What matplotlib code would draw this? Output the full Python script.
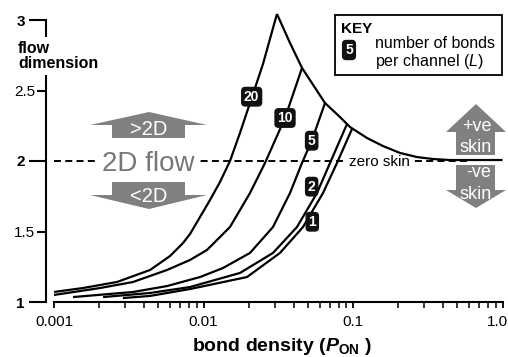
import matplotlib
matplotlib.use("Agg")
import matplotlib.pyplot as plt
from matplotlib.patches import Polygon, Rectangle
from matplotlib.transforms import Affine2D, ScaledTranslation
from matplotlib.ticker import LogLocator, NullFormatter

plt.rcParams["font.family"] = ["Liberation Sans", "DejaVu Sans"]
plt.rcParams["mathtext.fontset"] = "custom"
plt.rcParams["mathtext.it"] = "Liberation Sans:italic:bold"
plt.rcParams["mathtext.rm"] = "Liberation Sans:bold"
plt.rcParams["mathtext.bf"] = "Liberation Sans:bold"
plt.rcParams["mathtext.sf"] = "Liberation Sans:italic"

# ---- flow dimension vs bond density, one curve per L (bonds per channel) ----
bonds_per_channel = ["20", "10", "5", "2", "1"]

p_on_L20 = [0.001, 0.00156, 0.00264, 0.00439, 0.00597, 0.00729, 0.00812, 0.00948,
            0.01105, 0.01289, 0.01504, 0.01754, 0.02111, 0.02500, 0.0310]
dim_L20 = [1.071, 1.099, 1.142, 1.227, 1.326, 1.418, 1.482, 1.603,
           1.723, 1.851, 2.000, 2.199, 2.454, 2.688, 3.043]

p_on_L10 = [0.001, 0.00203, 0.00338, 0.00570, 0.00812, 0.01055, 0.01504, 0.02047,
            0.02578, 0.03509, 0.0456]
dim_L10 = [1.050, 1.099, 1.142, 1.227, 1.298, 1.369, 1.532, 1.773,
           1.986, 2.305, 2.660]

p_on_L5 = [0.00134, 0.00338, 0.00570, 0.00948, 0.01350, 0.02047, 0.02917, 0.03790,
           0.04560, 0.05318, 0.06497]
dim_L5 = [1.035, 1.071, 1.113, 1.177, 1.241, 1.348, 1.532, 1.773,
          1.986, 2.149, 2.411]

p_on_L2 = [0.00213, 0.00439, 0.00812, 0.01754, 0.02917, 0.04221, 0.05743, 0.07019, 0.09117]
dim_L2 = [1.035, 1.064, 1.106, 1.206, 1.348, 1.532, 1.773, 1.986, 2.262]

p_on_L1 = [0.00289, 0.00439, 0.00812, 0.01954, 0.03249, 0.04631, 0.06300, 0.07816, 0.09847]
dim_L1 = [1.028, 1.043, 1.092, 1.177, 1.348, 1.532, 1.773, 1.986, 2.227]

# upper envelope: from the peak down to the zero-skin plateau
p_on_env = [0.0310, 0.0379, 0.0456, 0.0650, 0.0818, 0.0955, 0.1241, 0.1588,
            0.2063, 0.2681, 0.3428, 0.4455, 1.0]
dim_env = [3.043, 2.837, 2.660, 2.411, 2.312, 2.241, 2.163, 2.106,
           2.057, 2.028, 2.014, 2.007, 2.007]

flow_2d = 2.0

x_ticks = [0.001, 0.01, 0.1, 1.0]
x_tick_labels = ["0.001", "0.01", "0.1", "1.0"]
y_major = [1, 2, 3]
y_major_labels = ["1", "2", "3"]
y_minor = [1.5, 2.5]
y_minor_labels = ["1.5", "2.5"]

# ---- figure ----
W, H = 508, 357
fig = plt.figure(figsize=(W / 100, H / 100), dpi=100)
fig.patch.set_facecolor("white")
# pixel transform (origin at top-left) for the annotation graphics
px = Affine2D().scale(1 / W, -1 / H).translate(0, 1) + fig.transFigure

ax = fig.add_axes([54 / W, (H - 302) / H, 448.5 / W, 296.1 / H])
ax.set_xscale("log")
ax.set_xlim(0.001, 1.0)
ax.set_ylim(1, 3.1)
ax.set_facecolor("none")

for s in ("top", "right"):
    ax.spines[s].set_visible(False)
ax.spines["left"].set_position(("outward", 5.8))
ax.spines["left"].set_bounds(1, 3)
ax.spines["left"].set_linewidth(1.5)
ax.spines["bottom"].set_linewidth(1.5)

ax.set_yticks(y_major, labels=y_major_labels)
for lab in ax.get_yticklabels():
    lab.set_fontweight("bold")
ax.set_yticks(y_minor, labels=y_minor_labels, minor=True)
ax.tick_params(axis="y", which="major", direction="out", length=12.2, width=1.5,
               pad=2.9, labelsize=11)
ax.tick_params(axis="y", which="minor", direction="out", length=6.5, width=1.5,
               pad=1.4, labelsize=11)

ax.set_xticks(x_ticks, labels=x_tick_labels)
ax.xaxis.set_minor_locator(LogLocator(base=10, subs=range(2, 10)))
ax.xaxis.set_minor_formatter(NullFormatter())
ax.tick_params(axis="x", which="major", direction="out", length=4.5, width=1.3,
               pad=5, labelsize=11)
ax.tick_params(axis="x", which="minor", direction="out", length=4.0, width=1.1)
# keep the last tick label inside the figure
last = ax.xaxis.get_majorticklabels()[-1]
last.set_horizontalalignment("right")
last.set_transform(last.get_transform() + ScaledTranslation(0.05, 0, fig.dpi_scale_trans))

# reference line for 2D flow (zero skin)
ax.hlines(flow_2d, 0.001, 0.62, colors="black", linewidth=1.4,
          linestyles=(0, (3.6, 2.2)), zorder=3)

curves = [(p_on_L20, dim_L20), (p_on_L10, dim_L10), (p_on_L5, dim_L5),
          (p_on_L2, dim_L2), (p_on_L1, dim_L1), (p_on_env, dim_env)]
for xs, ys in curves:
    ax.plot(xs, ys, color="black", linewidth=1.6, zorder=5,
            solid_joinstyle="round", solid_capstyle="butt", clip_on=False)

# L labels on the curves
label_x = [0.0210, 0.0351, 0.0529, 0.0529, 0.0534]
label_y = [2.456, 2.305, 2.144, 1.818, 1.569]
for txt, lx, ly in zip(bonds_per_channel, label_x, label_y):
    ax.text(lx, ly, txt, color="white", fontsize=10, fontweight="bold",
            ha="center", va="center", zorder=6,
            bbox=dict(boxstyle="round,pad=0.16,rounding_size=0.25",
                      fc="#111111", ec="#111111"))

# text on the reference line
ax.text(148, 171, "2D flow", transform=px, fontsize=20, color="#777777",
        ha="center", va="baseline", zorder=4, clip_on=False,
        bbox=dict(fc="white", ec="none", pad=2.5))
ax.text(379, 166.5, "zero skin", transform=px, fontsize=11, color="black",
        ha="center", va="baseline", zorder=4, clip_on=False,
        bbox=dict(fc="white", ec="none", pad=1.0))

# block arrows
grey = "#808080"
arrows = [
    [(149, 112), (207, 125), (185, 125), (185, 138), (112, 138), (112, 125), (90, 125)],
    [(112, 182), (185, 182), (185, 195), (207, 195), (149, 209), (90, 195), (112, 195)],
    [(476, 104), (506, 132), (495, 132), (495, 155), (456, 155), (456, 132), (446, 132)],
    [(456, 165), (495, 165), (495, 190), (506, 190), (476, 208), (446, 190), (456, 190)],
]
for pts in arrows:
    fig.add_artist(Polygon(pts, closed=True, transform=px, fc=grey, ec="none"))

arrow_texts = [(149, 135, ">2D", 14.5), (149, 202, "<2D", 14.5),
               (477, 131, "+ve", 13), (476, 152, "skin", 13),
               (479, 177, "-ve", 13), (476, 199, "skin", 13)]
for x, y, s, fs in arrow_texts:
    fig.text(x, y, s, transform=px, color="white", fontsize=fs,
             ha="center", va="baseline")

# key
fig.add_artist(Rectangle((335, 15), 167, 60, transform=px, fill=False,
                         ec="black", lw=1.3))
fig.text(341, 33, "KEY", transform=px, fontsize=11, fontweight="bold",
         ha="left", va="baseline")
fig.text(349, 50, "5", transform=px, fontsize=10, fontweight="bold",
         color="white", ha="center", va="center",
         bbox=dict(boxstyle="round,pad=0.18,rounding_size=0.25",
                   fc="#111111", ec="#111111"))
fig.text(375, 48, "number of bonds", transform=px, fontsize=11.5,
         ha="left", va="baseline")
fig.text(375, 66, "per channel ($\\mathsf{L}$)", transform=px, fontsize=11.5,
         ha="left", va="baseline")

# axis titles
fig.text(18, 56, "flow\ndimension", transform=px, fontsize=11.5,
         fontweight="bold", ha="left", va="center", linespacing=1.0,
         bbox=dict(fc="white", ec="none", pad=3))
fig.text(282, 351, "bond density ($P_{\\mathrm{ON}}$ )", transform=px,
         fontsize=14, fontweight="bold", ha="center", va="baseline")

fig.savefig("out.png", dpi=100, facecolor="white")
